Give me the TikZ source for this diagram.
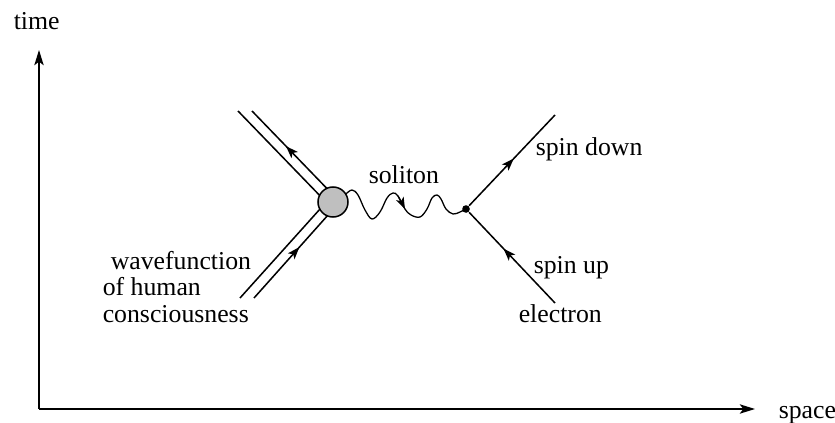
\documentclass[tikz,border=0pt]{standalone}
\usepackage{fontspec}
\setmainfont{Liberation Serif}
\usetikzlibrary{arrows.meta,decorations.markings,calc}
\begin{document}
\begin{tikzpicture}[x=0.03cm,y=-0.03cm,
  line width=1.3pt,
  lbl/.style={anchor=base west,inner sep=0pt,font=\fontsize{22}{26}\selectfont},
  axis/.style={-{Stealth[length=13pt,width=8pt,inset=3pt]}},
  midarrow/.style={decoration={markings,mark=at position #1 with {\arrow{Stealth[length=10.5pt,width=7.5pt,inset=2.5pt]}}},postaction={decorate}}
]
\useasboundingbox (0,0) rectangle (835,423);
% axes
\coordinate (o) at (39,409);
\coordinate (ty) at (39,50);
\coordinate (sx) at (755,409);
\draw[axis] (o) -- (ty);
\draw[axis] (o) -- (sx);
\node[lbl] (time) at (13,30) {time};
\node[lbl] (space) at (778,418) {space};
% vertex centre
\coordinate (cc) at (333,202);
\coordinate (ua1) at (238,111);
\coordinate (ua2) at (252,111);
\coordinate (la1) at (240,298);
\coordinate (la2) at (254,298);
\draw (ua1) -- ($(cc)+(-3.6,3.5)$);
\draw[midarrow=0.6] ($(cc)+(3.6,-3.5)$) -- (ua2);
\draw ($(cc)+(-3.7,-3.3)$) -- (la1);
\draw[midarrow=0.55] (la2) -- ($(cc)+(3.7,3.3)$);
% soliton wave
\node[circle,fill=black,inner sep=0pt,minimum size=6.5pt] (v) at (466,209) {};
\coordinate (wa) at (405,209);
\draw[line width=1.1pt,-{Stealth[length=10pt,width=7pt,inset=2.5pt]}] plot[smooth,tension=0.6] coordinates {
 (346,194) (352,190) (358,195) (365,210) (372,219) (380,212) (387,198) (393,193) (398,196) (wa)};
\draw[line width=1.1pt] plot[smooth,tension=0.6] coordinates {
 (398,196) (wa) (411,215) (420,217) (427,209) (432,198) (437,195) (441,199) (446,209) (453,214) (460,212) (v.center)};
\node[circle,draw,fill=black!25,minimum size=25.6pt,inner sep=0pt] (c) at (cc) {};
% electron lines
\coordinate (ed) at (555,115);
\coordinate (eu) at (555,303);
\draw[midarrow=0.52] (v) -- (ed);
\draw[midarrow=0.6] (eu) -- (v);
% labels
\node[lbl] (sol) at (368,183) {soliton};
\node[lbl] (sd) at (535,155) {spin down};
\node[lbl] (su) at (533,273) {spin up};
\node[lbl] (el) at (518,322) {electron};
\node[lbl] (w1) at (110,269) {wavefunction};
\node[lbl] (w2) at (102,295) {of human};
\node[lbl] (w3) at (102,322) {consciousness};
\end{tikzpicture}
\end{document}
